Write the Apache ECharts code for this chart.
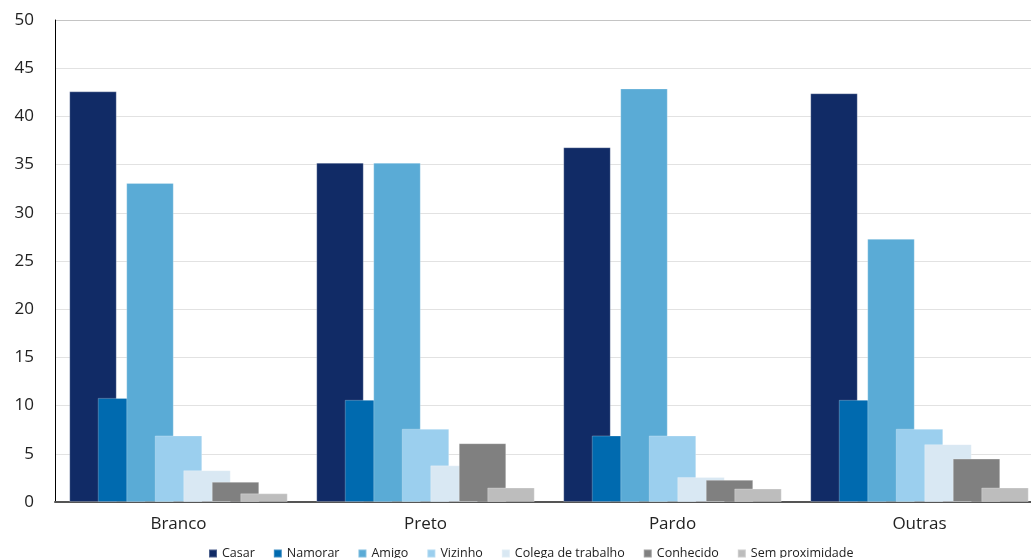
<!DOCTYPE html>
<html>
<head>
<meta charset="utf-8">
<script src="https://cdn.jsdelivr.net/npm/echarts@6/dist/echarts.min.js"></script>
<style>
html,body{margin:0;padding:0;background:#fff;overflow:hidden;}
#chart{width:1043px;height:558px;}
</style>
</head>
<body>
<div id="chart"></div>
<script>
const categories = ['Branco', 'Preto', 'Pardo', 'Outras'];
const seriesNames = ['Casar', 'Namorar', 'Amigo', 'Vizinho', 'Colega de trabalho', 'Conhecido', 'Sem proximidade'];
const casar = [42.6, 35.2, 36.8, 42.4];
const namorar = [10.8, 10.6, 6.9, 10.6];
const amigo = [33.1, 35.2, 42.9, 27.3];
const vizinho = [6.9, 7.6, 6.9, 7.6];
const colega = [3.3, 3.8, 2.6, 6.0];
const conhecido = [2.1, 6.1, 2.3, 4.5];
const semProximidade = [0.9, 1.5, 1.4, 1.5];
const yTicks = [0, 5, 10, 15, 20, 25, 30, 35, 40, 45, 50];

const colors = ['#112b66', '#006aaf', '#5aabd6', '#9bcfee', '#d9e8f3', '#808080', '#bdbdbd'];
const values = [casar, namorar, amigo, vizinho, colega, conhecido, semProximidade];

const gridColors = yTicks.map((t, i) => i === yTicks.length - 1 ? '#c4c4c4' : '#e2e2e2');

const chart = echarts.init(document.getElementById('chart'), null, {renderer: 'canvas'});
chart.setOption({
  animation: false,
  textStyle: {fontFamily: 'Open Sans'},
  grid: {left: 55, top: 20, bottom: 56, right: 0, containLabel: false},
  legend: {
    left: 208, top: 547, padding: 0,
    icon: 'rect', itemWidth: 8, itemHeight: 8, itemGap: 18,
    textStyle: {fontFamily: 'Open Sans', fontSize: 12.5, color: '#222'},
    data: seriesNames
  },
  xAxis: {
    type: 'category',
    data: categories,
    axisLine: {lineStyle: {color: '#555', width: 2}},
    axisTick: {show: false},
    axisLabel: {fontSize: 17, color: '#222', margin: 14}
  },
  yAxis: {
    type: 'value',
    min: yTicks[0], max: yTicks[yTicks.length - 1], interval: 5,
    axisLine: {show: true, lineStyle: {color: '#000', width: 1}},
    axisTick: {show: false},
    axisLabel: {fontSize: 17, color: '#222', margin: 21},
    splitLine: {lineStyle: {color: gridColors, width: 1}}
  },
  series: seriesNames.map((name, i) => ({
    name: name,
    type: 'bar',
    data: values[i],
    barWidth: 47.5,
    barGap: '-40%',
    itemStyle: {color: colors[i], borderColor: 'rgba(255,255,255,0.25)', borderWidth: 1}
  }))
});
</script>
</body>
</html>
